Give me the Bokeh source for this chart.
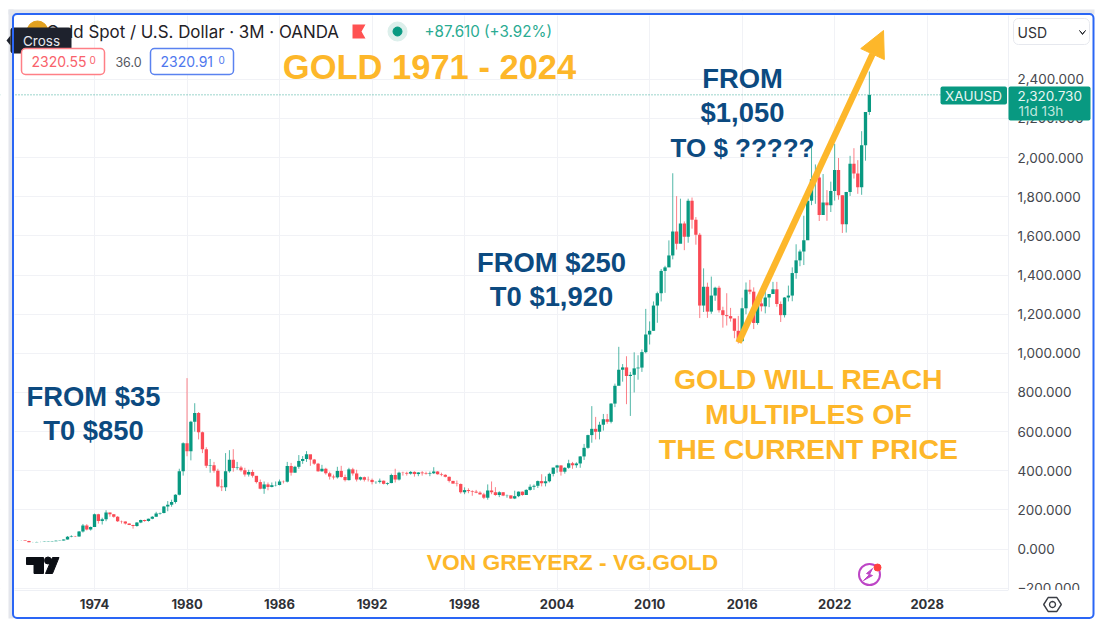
import math
from bokeh.embed import file_html
from bokeh.resources import INLINE
from bokeh.plotting import figure
from bokeh.models import (FixedTicker, NumeralTickFormatter, BoxAnnotation, Label, Span,
                          Arrow, NormalHead, PolyAnnotation, ColumnDataSource)

# ---- data (quarterly candles) ----
first_year = 1969.0
closes = [43,43,41,35, 35,36,36,37, 38,40,42,43, 48,62,65,64, 90,120,100,112, 178,143,152,186,
          178,165,142,140, 130,123,117,135, 148,143,154,165, 181,184,217,226, 240,277,397,540,
          500,650,695,597, 510,425,428,400, 320,316,397,456, 414,416,403,381, 394,374,342,308,
          330,317,326,327, 345,344,424,390, 420,450,460,484, 457,436,397,410, 387,370,366,399,
          368,352,407,386, 355,367,354,353, 342,343,349,333, 337,378,355,390, 389,385,394,383,
          391,387,384,387, 396,382,379,369, 348,334,332,290, 301,296,293,288, 279,262,299,290,
          276,290,273,274, 258,270,293,276, 302,318,323,347, 336,346,384,416, 427,395,415,438,
          428,437,473,517, 582,614,599,635, 663,650,743,834, 916,928,884,890, 923,927,1006,1096,
          1115,1244,1307,1421, 1439,1500,1622,1560, 1663,1595,1779,1682, 1606,1244,1340,1213,
          1295,1335,1220,1195, 1190,1178,1115,1062, 1230,1325,1315,1155, 1255,1240,1285,1303,
          1327,1252,1195,1285, 1295,1410,1475,1520, 1578,1780,1890,1898, 1707,1770,1757,1829,
          1937,1807,1660,1824, 1969,1919,1848,2063, 2233,2320]
highs = [44,44,44,42, 36,37,37,38, 39,41,44,44, 49,66,70,67, 92,128,127,115, 181,180,160,198,
         186,178,168,145, 141,131,124,137, 150,150,155,168, 190,186,220,245, 252,280,410,545,
         873,655,745,700, 600,520,460,445, 410,356,490,505, 510,445,425,415, 405,405,360,355,
         345,340,340,345, 355,350,445,440, 425,480,475,500, 480,460,440,430, 415,395,380,420,
         425,380,415,415, 405,370,370,370, 360,345,360,350, 340,385,410,395, 395,395,398,397,
         393,398,395,396, 418,398,390,382, 370,348,350,335, 315,310,300,302, 295,287,330,345,
         316,295,291,278, 273,298,294,294, 305,330,330,350, 382,371,390,416, 430,428,418,456,
         445,443,475,537, 584,730,675,650, 690,690,745,845, 1033,945,985,905, 1005,990,1020,1227,
         1163,1265,1315,1431, 1447,1577,1920,1803, 1790,1674,1790,1796, 1696,1615,1434,1361,
         1392,1340,1345,1238, 1307,1232,1169,1191, 1284,1362,1375,1337, 1262,1296,1357,1300,
         1365,1365,1265,1287, 1346,1439,1557,1530, 1703,1789,2075,1965, 1959,1916,1834,1877,
         2070,1998,1807,1825, 2009,2048,1987,2135, 2222,2440]
lows = [42,42,41,35, 34,35,35,36, 37,38,40,42, 43,48,60,61, 63,84,95,94, 114,130,125,142,
        165,160,138,130, 125,122,104,114, 132,139,140,152, 165,176,182,193, 216,232,274,375,
        474,453,600,560, 490,414,390,390, 315,296,296,390, 395,405,395,370, 370,365,335,305,
        282,300,315,320, 325,335,340,375, 390,410,435,445, 425,430,395,395, 380,355,355,360,
        365,345,350,375, 345,350,345,345, 330,333,335,330, 326,336,340,350, 375,375,380,370,
        372,375,380,372, 383,380,372,366, 340,335,320,283, 280,285,272,285, 278,255,252,280,
        272,265,270,262, 256,255,265,272, 277,298,302,312, 320,320,340,371, 390,375,385,410,
        410,415,415,455, 512,543,560,560, 605,640,642,725, 845,855,740,680, 800,865,905,1000,
        1045,1115,1156,1265, 1309,1463,1480,1530, 1627,1527,1565,1637, 1555,1180,1211,1181,
        1202,1268,1208,1131, 1142,1162,1077,1050, 1061,1200,1302,1124, 1146,1214,1204,1236,
        1303,1238,1160,1183, 1265,1266,1381,1445, 1451,1670,1757,1764, 1676,1722,1677,1722,
        1780,1785,1615,1617, 1804,1893,1815,1810, 1984,2218]
year_ticks = [1974, 1980, 1986, 1992, 1998, 2004, 2010, 2016, 2022, 2028]
price_ticks = [-200, 0, 200, 400, 600, 800, 1000, 1200, 1400, 1600, 1800, 2000, 2200, 2400]
last_price = 2320.73

GREEN, RED = "#089981", "#fa4a55"
ORANGE, NAVY = "#fdb72a", "#0c4a80"

FL, FR, FT, FB = 14, 1008, 15, 590   # chart pane, page pixels
W, H = 1096, 620

# pixel <-> data helpers for the annotations
def X(px): return 1974 + (px - 94.0) / 15.42
def Y(py): return (548.5 - py) * 200 / 39.14
def SX(px): return px
def SY(py): return H - py

p = figure(width=W, height=H, output_backend="svg", toolbar_location=None,
           x_range=(X(0), X(W)), y_range=(Y(H), Y(0)),
           x_axis_location="below", y_axis_location="right", min_border=0)
p.outline_line_color = None

# axes, held at the edges of the pane
xa, ya = p.xaxis[0], p.yaxis[0]
xa.fixed_location = Y(FB)
ya.fixed_location = X(FR)
xa.bounds = (X(FL), X(FR))
ya.bounds = (Y(FB), Y(FT))
for ax in (xa, ya):
    ax.axis_line_color = "#eef0f5"
    ax.major_tick_line_color = None
    ax.minor_tick_line_color = None
    ax.major_tick_out = 0
    ax.major_tick_in = 0
xa.ticker = FixedTicker(ticks=year_ticks)
xa.major_label_text_font = "Inter"
xa.major_label_text_font_style = "bold"
xa.major_label_text_font_size = "13px"
xa.major_label_text_color = "#2f3136"
xa.formatter.use_scientific = False
xa.major_label_standoff = 8
ya.ticker = FixedTicker(ticks=price_ticks)
ya.formatter = NumeralTickFormatter(format="0,0.000")
ya.major_label_overrides = {-200: "\u2212200.000"}
ya.major_label_text_font = "Inter"
ya.major_label_text_font_size = "13.5px"
ya.major_label_text_color = "#45474d"
ya.major_label_standoff = 9
p.xgrid.ticker = FixedTicker(ticks=year_ticks)
p.ygrid.ticker = FixedTicker(ticks=price_ticks)
p.grid.grid_line_color = "#f1f2f6"
p.grid.grid_line_width = 1

def box(x0, x1, y0, y1, **kw):
    b = BoxAnnotation(left=SX(x0), right=SX(x1), top=SY(y0), bottom=SY(y1),
                      left_units="screen", right_units="screen", top_units="screen", bottom_units="screen", **kw)
    p.add_layout(b)
    return b
def poly(pxs, pys, **kw):
    p.add_layout(PolyAnnotation(xs=[SX(v) for v in pxs], ys=[SY(v) for v in pys],
                                xs_units="screen", ys_units="screen", **kw))
def label(px, py, text, size, color, font="Liberation Sans", style="normal", align="center", level="annotation", alpha=1):
    p.add_layout(Label(x=SX(px), y=SY(py), x_units="screen", y_units="screen", text=text, text_font=font,
                       text_font_size=f"{size}px", text_font_style=style, text_color=color, text_align=align,
                       text_alpha=alpha, text_baseline="middle", level=level))

# white surround over the grid, then the soft grey shadow
WHITE = dict(fill_color="#ffffff", fill_alpha=1, line_color=None, level="glyph")
box(0, W, 0, FT, **WHITE)
box(0, W, FB, H, **WHITE)
box(0, FL, 0, H, **WHITE)
box(FR, W, 0, H, **WHITE)
SHADOW = dict(fill_color="#e4e6ec", fill_alpha=1, line_color=None, level="glyph")
box(8, 1094, 9, 14, **SHADOW)
box(8, 13, 9, 618, **SHADOW)

# dotted last-price line
p.add_layout(Span(location=last_price, dimension="width", line_color=GREEN, line_width=1,
                  line_dash="1 2", line_alpha=0.8, level="underlay"))

# candles
xs = [first_year + i * 0.25 for i in range(len(closes))]
opens = [closes[0]] + closes[:-1]
colors = [GREEN if c >= o else RED for o, c in zip(opens, closes)]
src = ColumnDataSource(dict(x=xs, open=opens, close=closes, high=highs, low=lows, color=colors,
                            top=[max(o, c) for o, c in zip(opens, closes)],
                            bottom=[min(o, c) for o, c in zip(opens, closes)]))
p.segment("x", "high", "x", "low", source=src, color="color", line_width=1, line_alpha=0.7)
p.vbar(x="x", top="top", bottom="bottom", width=0.215, source=src, fill_color="color", line_color=None)

# overlaid texts
B = dict(font="Liberation Sans", style="bold")
label(429, 66, "GOLD 1971 - 2024", 34.5, ORANGE, **B)
label(742, 78, "FROM", 27.4, NAVY, **B)
label(742, 112, "$1,050", 27.4, NAVY, **B)
label(742, 147, "TO $ ?????", 26, NAVY, **B)
label(551, 262, "FROM $250", 27.4, NAVY, **B)
label(551, 296, "T0 $1,920", 27.4, NAVY, **B)
label(93, 396, "FROM $35", 27.4, NAVY, **B)
label(93, 430, "T0 $850", 27.4, NAVY, **B)
label(808, 378, "GOLD WILL REACH", 28.5, ORANGE, **B)
label(808, 413, "MULTIPLES OF", 28.5, ORANGE, **B)
label(808, 448, "THE CURRENT PRICE", 28.5, ORANGE, **B)
label(572, 561, "VON GREYERZ - VG.GOLD", 22.8, ORANGE, **B)

# big arrow
p.add_layout(Arrow(x_start=X(738), y_start=Y(342), x_end=X(883), y_end=Y(30),
                   line_color=ORANGE, line_width=6.5,
                   end=NormalHead(size=26, fill_color=ORANGE, line_color=ORANGE)))

# header row
p.scatter([X(37)], [Y(31)], size=21, color="#e2a11f", level="overlay")
label(46, 31, "Gold Spot / U.S. Dollar \u00b7 3M \u00b7 OANDA", 16.9, "#1f2126", font="Inter", align="left", level="overlay")
poly([352, 365, 361, 365, 352], [24, 24, 31, 38, 38], fill_color="#ff5252", fill_alpha=1, line_color=None, level="overlay")
p.scatter([X(397)], [Y(31)], size=19, color="#dcefeb", level="overlay")
p.scatter([X(397)], [Y(31)], size=9, color=GREEN, level="overlay")
label(424, 31, "+87.610 (+3.92%)", 15.2, "#2aab92", font="Inter", align="left", level="overlay")

# tooltip
box(10, 71, 27, 53, fill_color="#1e222d", fill_alpha=1, line_color=None, border_radius=3, level="overlay")
poly([10, 6, 10], [35, 40, 45], fill_color="#1e222d", fill_alpha=1, line_color=None, level="overlay")
label(41, 40, "Cross", 13.5, "#e6e8ee", font="Inter", level="overlay")

# bid / ask boxes
box(21, 104, 48, 74, fill_color="#ffffff", fill_alpha=1, line_color="#ff7f86", line_alpha=1, line_width=1.5, border_radius=4, level="overlay")
label(31, 61, "2320.55", 14, "#f9626b", font="Inter", align="left", level="overlay")
label(89, 59, "0", 10, "#f9626b", font="Inter", align="left", level="overlay")
label(128, 61, "36.0", 12.5, "#55585f", font="Inter", level="overlay")
box(150, 233, 48, 74, fill_color="#ffffff", fill_alpha=1, line_color="#5a82f0", line_alpha=1, line_width=1.5, border_radius=4, level="overlay")
label(160, 61, "2320.91", 14, "#4f78ee", font="Inter", align="left", level="overlay")
label(218, 59, "0", 10, "#4f78ee", font="Inter", align="left", level="overlay")

# currency selector
box(1013, 1089, 18, 44, fill_color="#ffffff", fill_alpha=1, line_color="#e6e8ee", line_alpha=1, line_width=1, border_radius=5, level="overlay")
label(1017, 31.5, "USD", 14, "#2f3136", font="Inter", align="left", level="overlay")
poly([1079, 1082, 1085, 1082], [30, 33, 30, 34], fill_color="#2f3136", fill_alpha=1, line_color="#2f3136", line_alpha=1, line_width=1, level="overlay")

# hide the lower half of the clipped -200 label
box(FR, 1091, 589.5, 616, fill_color="#ffffff", fill_alpha=1, line_color=None, level="overlay")

# price tags
box(940, 1006.5, 86, 104, fill_color=GREEN, fill_alpha=1, line_color=None, border_radius=2, level="overlay")
label(973, 95.5, "XAUUSD", 13.5, "#e8f6f3", font="Inter", level="overlay")
box(1008, 1090, 86, 120, fill_color=GREEN, fill_alpha=1, line_color=None, border_radius=2, level="overlay")
label(1017, 95, "2,320.730", 13.5, "#e8f6f3", font="Inter", align="left", level="overlay")
label(1018, 110, "11d 13h", 13.5, "#bfe6dd", font="Inter", align="left", level="overlay")

# TradingView mark
p.patch([X(v) for v in (26, 43, 43, 33.5, 33.5, 26)], [Y(v) for v in (557, 557, 573, 573, 564, 564)], color="#0b0e14")
p.scatter([X(47.5)], [Y(560)], size=7, color="#0b0e14")
p.patch([X(v) for v in (52, 58.5, 52, 45)], [Y(v) for v in (557, 557, 573, 573)], color="#0b0e14")

# bolt badge
p.scatter([X(869)], [Y(574)], size=21, fill_color=None, line_color="#bd45c6", line_width=2)
p.patch([X(v) for v in (872, 866, 869, 863, 872, 869)], [Y(v) for v in (568, 573, 574, 580, 575, 574)], color="#bd45c6")
p.scatter([X(877)], [Y(567)], size=7, color="#ff4040")

# settings hexagon
def ring(cx, cy, r, n, sx=1.0):
    a = [2 * math.pi * i / n for i in range(n)]
    return [cx + sx * r * math.cos(t) for t in a], [cy + r * math.sin(t) for t in a]
hx, hy = ring(1052, 604, 8, 6, 1.1)
poly(hx, hy, fill_alpha=0, line_color="#3a3d44", line_alpha=1, line_width=1.4, level="overlay")
cx, cy = ring(1052, 604, 3, 12)
poly(cx, cy, fill_alpha=0, line_color="#3a3d44", line_alpha=1, line_width=1.3, level="overlay")

# blue outer frame on top
box(12.5, 1093, 13.5, 617.5, fill_alpha=0, line_color="#2a66f5", line_alpha=1, line_width=2, border_radius=4, level="overlay")

open("out.html", "w").write(file_html(p, INLINE))
